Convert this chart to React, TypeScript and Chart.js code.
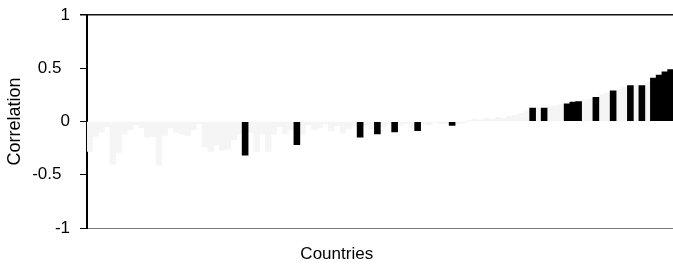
import React, { useEffect, useRef } from "react";
import { Chart, registerables } from "chart.js";

Chart.register(...registerables);

// 102 countries, ordered as in the figure (names not shown)
const countries: string[] = Array.from({ length: 102 }, (_, i) => `Country ${i + 1}`);

// Correlation per country (faint bars estimated)
const correlations: number[] = [
  -0.28, -0.14, -0.1, -0.05, -0.4, -0.29, -0.12, -0.08, -0.03, -0.06,
  -0.15, -0.14, -0.41, -0.13, -0.06, -0.1, -0.12, -0.13, -0.08, -0.02,
  -0.24, -0.28, -0.22, -0.27, -0.26, -0.17, -0.12, -0.32, -0.1, -0.28,
  -0.12, -0.28, -0.12, -0.05, -0.12, -0.08, -0.22, -0.12, -0.03, -0.08,
  -0.06, -0.02, -0.09, -0.04, -0.11, -0.07, -0.04, -0.15, -0.03, -0.07,
  -0.12, -0.05, -0.02, -0.1, -0.04, -0.02, -0.06, -0.09, -0.02, -0.03,
  -0.01, -0.02, -0.01, -0.04, -0.02, -0.01, 0.01, 0.02, 0.01, 0.03,
  0.02, 0.04, 0.03, 0.05, 0.06, 0.08, 0.1, 0.13, 0.13, 0.13,
  0.14, 0.15, 0.16, 0.17, 0.185, 0.19, 0.2, 0.21, 0.23, 0.25,
  0.27, 0.29, 0.3, 0.32, 0.34, 0.34, 0.34, 0.37, 0.41, 0.44,
  0.47, 0.49,
];

// Countries whose correlation is drawn as a solid black bar
const significantIdx: number[] = [27, 36, 47, 50, 53, 57, 63, 77, 79, 83, 84, 85, 88, 91, 94, 96, 98, 99, 100, 101];

const yTicks: number[] = [-1, -0.5, 0, 0.5, 1];

const FONT = "'Liberation Sans', Arial, sans-serif";

export default function App() {
  const ref = useRef<HTMLCanvasElement | null>(null);

  useEffect(() => {
    if (!ref.current) return;
    const sig = new Set(significantIdx);
    const blackData = correlations.map((v, i) => (sig.has(i) ? v : null));
    const greyData = correlations.map((v, i) => (sig.has(i) ? null : v));

    const chart = new Chart(ref.current, {
      type: "bar",
      data: {
        labels: countries,
        datasets: [
          {
            label: "Not significant",
            data: greyData,
            backgroundColor: "#f5f5f5",
            barPercentage: 1,
            categoryPercentage: 1,
            grouped: false,
            order: 2,
          },
          {
            label: "Significant",
            data: blackData,
            backgroundColor: "#000000",
            barPercentage: 1.15,
            categoryPercentage: 1,
            grouped: false,
            order: 1,
          },
        ],
      },
      options: {
        responsive: false,
        animation: false,
        devicePixelRatio: 1,
        layout: { padding: { top: 15, right: 16.5, left: 0, bottom: 0 } },
        plugins: {
          legend: { display: false },
          tooltip: { enabled: false },
          title: {
            display: true,
            text: "Countries",
            position: "bottom",
            color: "#000",
            font: { family: FONT, size: 17, weight: "normal" },
            padding: { top: 15.8, bottom: 3.8 },
          },
        },
        scales: {
          x: {
            display: false,
            offset: true,
            grid: { display: false },
          },
          y: {
            min: -1,
            max: 1,
            afterFit: (s: any) => {
              s.width = 87;
            },
            afterBuildTicks: (s: any) => {
              s.ticks = yTicks.map((v) => ({ value: v }));
            },
            border: { display: true, color: "#000", width: 2 },
            grid: {
              drawTicks: true,
              tickLength: 7,
              tickColor: "#000",
              color: (c: any) =>
                c.tick && c.tick.value === 1
                  ? "#111"
                  : c.tick && c.tick.value === -1
                  ? "#777"
                  : "rgba(0,0,0,0)",
              lineWidth: (c: any) => (c.tick && c.tick.value === 1 ? 1.5 : 1),
            },
            ticks: {
              color: "#000",
              padding: 10,
              font: { family: FONT, size: 17, lineHeight: 0.5 },
              callback: (v: any) =>
                Number.isInteger(Number(v)) ? String(v) : String(v) + "\u2002",
            },
            title: {
              display: true,
              text: "Correlation",
              color: "#000",
              font: { family: FONT, size: 18, weight: "normal" },
              padding: { top: 4, bottom: 0 },
            },
          },
        },
      },
    });
    return () => chart.destroy();
  }, []);

  return (
    <div
      style={{
        position: "absolute",
        left: 0,
        top: 0,
        width: 673,
        height: 268,
        overflow: "hidden",
        background: "#fff",
      }}
    >
      <canvas ref={ref} width={690} height={268} style={{ display: "block" }} />
    </div>
  );
}
